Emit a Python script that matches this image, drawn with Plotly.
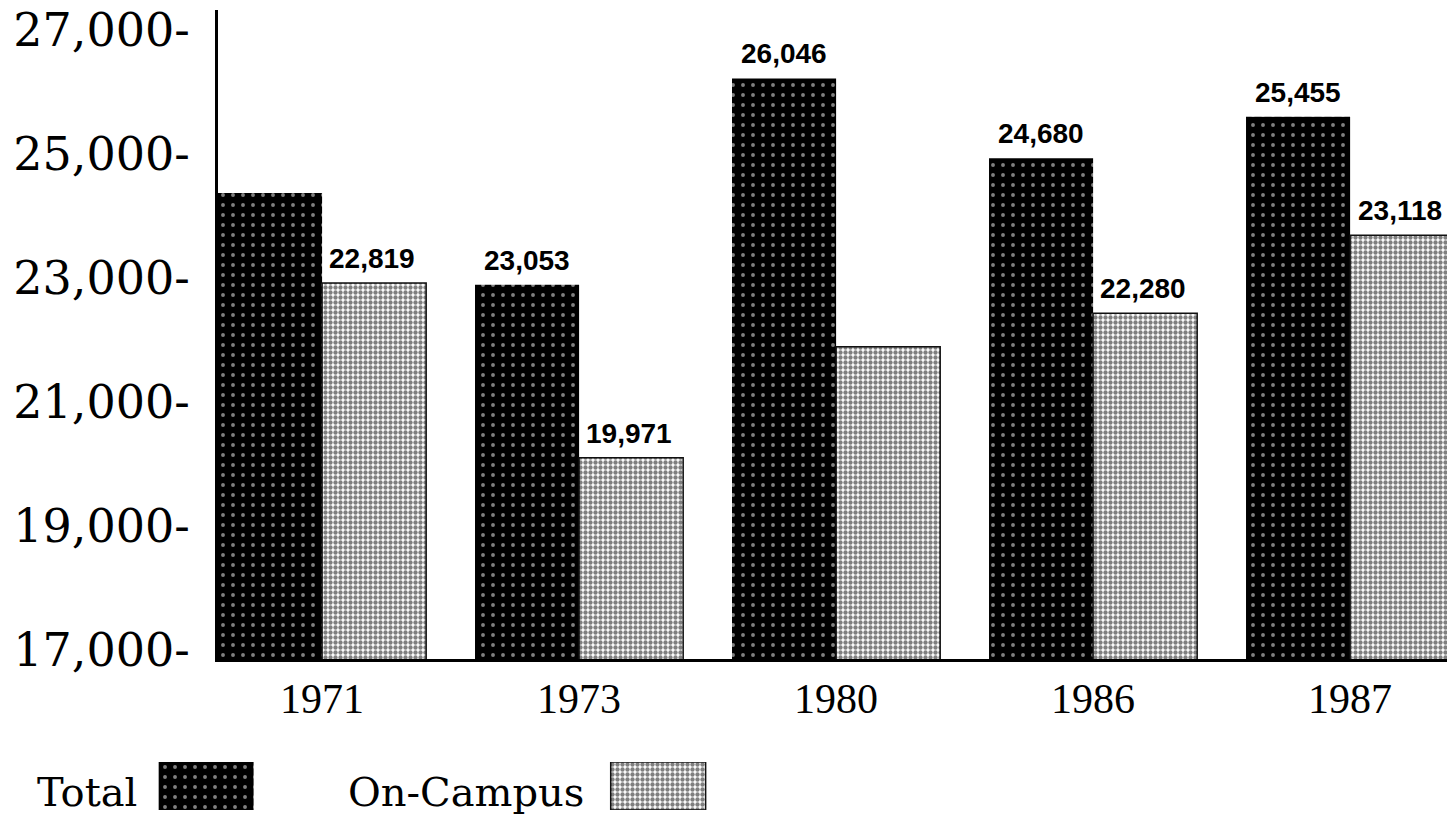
import plotly.graph_objects as go

# data
years = ["1971", "1973", "1980", "1986", "1987"]
total = [24370, 22890, 26220, 24930, 25600]
on_campus = [22920, 20100, 21890, 22430, 23690]
total_labels = ["", "23,053", "26,046", "24,680", "25,455"]
on_campus_labels = ["22,819", "19,971", "", "22,280", "23,118"]
y_ticks = [17000, 19000, 21000, 23000, 25000, 27000]
legend_names = ["Total", "On-Campus"]

serif = "DejaVu Serif, serif"
label_font = dict(family="Liberation Sans Narrow, Liberation Sans, Arial, sans-serif", size=28,
                  color="black", weight="bold")

total_pat = dict(shape=".", bgcolor="black", fgcolor="white", size=10, solidity=0.12, fillmode="overlay")
camp_pat = dict(shape=".", bgcolor="white", fgcolor="black", size=5, solidity=0.6, fillmode="overlay")

fig = go.Figure()
fig.add_trace(go.Bar(x=years, y=total, name="Total", marker=dict(color="black", pattern=total_pat, line=dict(width=0)),
                     xaxis="x", yaxis="y"))
fig.add_trace(go.Bar(x=years, y=on_campus, name="On-Campus",
                     marker=dict(color="white", pattern=camp_pat, line=dict(color="#111", width=1.5)),
                     xaxis="x", yaxis="y"))

# legend swatches (text sits left of the box, so drawn on their own axes)
fig.add_trace(go.Bar(x=[legend_names[0]], y=[1], width=0.21, offset=-0.105,
                     marker=dict(color="black", pattern=total_pat, line=dict(width=0)),
                     xaxis="x2", yaxis="y2", hoverinfo="skip"))
fig.add_trace(go.Bar(x=[legend_names[1]], y=[1], width=0.21, offset=-0.105,
                     marker=dict(color="white", pattern=camp_pat, line=dict(color="#111", width=1.5)),
                     xaxis="x2", yaxis="y2", hoverinfo="skip"))

annotations = []
# years look numeric, so place labels by category index
for i, (v, t) in enumerate(zip(total, total_labels)):
    if t:
        annotations.append(dict(x=i, y=v, xref="x", yref="y", text=t, showarrow=False,
                                xshift=-52, yshift=7, yanchor="bottom", font=label_font))
for i, (v, t) in enumerate(zip(on_campus, on_campus_labels)):
    if t:
        annotations.append(dict(x=i, y=v, xref="x", yref="y", text=t, showarrow=False,
                                xshift=50, yshift=7, yanchor="bottom", font=label_font))
for name, shift in zip(legend_names, [-67, -72]):
    annotations.append(dict(x=name, y=0.5, xref="x2", yref="y2", text=name, showarrow=False,
                            xanchor="right", xshift=shift, yshift=-6,
                            font=dict(family=serif, size=40, color="black")))

fig.update_layout(
    width=1447, height=825,
    margin=dict(l=0, r=0, t=10, b=0),
    paper_bgcolor="white", plot_bgcolor="white",
    barmode="group", bargap=0.19, bargroupgap=0,
    showlegend=False,
    annotations=annotations,
    xaxis=dict(domain=[218 / 1447, 1], anchor="y", type="category", range=[-0.405, 4.377],
               showline=True, linecolor="black", linewidth=3, showgrid=False, ticks="", automargin=False,
               ticklabelstandoff=1, tickfont=dict(family="Liberation Serif, serif", size=42, color="black")),
    yaxis=dict(domain=[166 / 815, 1], anchor="x", range=[16855, 27323],
               tickvals=y_ticks, ticktext=[f"{v:,}-" for v in y_ticks], automargin=False,
               showline=True, linecolor="black", linewidth=3, showgrid=False, zeroline=False, ticks="",
               ticklabelstandoff=16, tickfont=dict(family=serif, size=46, color="black")),
    xaxis2=dict(domain=[0, 1], anchor="y2", type="category", range=[-0.456, 2.745],
                visible=False, fixedrange=True, automargin=False),
    yaxis2=dict(domain=[15 / 815, 63 / 815], anchor="x2", range=[0, 1], visible=False,
                fixedrange=True, automargin=False),
)

# drop the default page margin so the figure fills the window exactly
fig.write_html("out.html", config={"displayModeBar": False},
               post_script="document.body.style.margin='0';document.body.style.overflow='hidden';")
